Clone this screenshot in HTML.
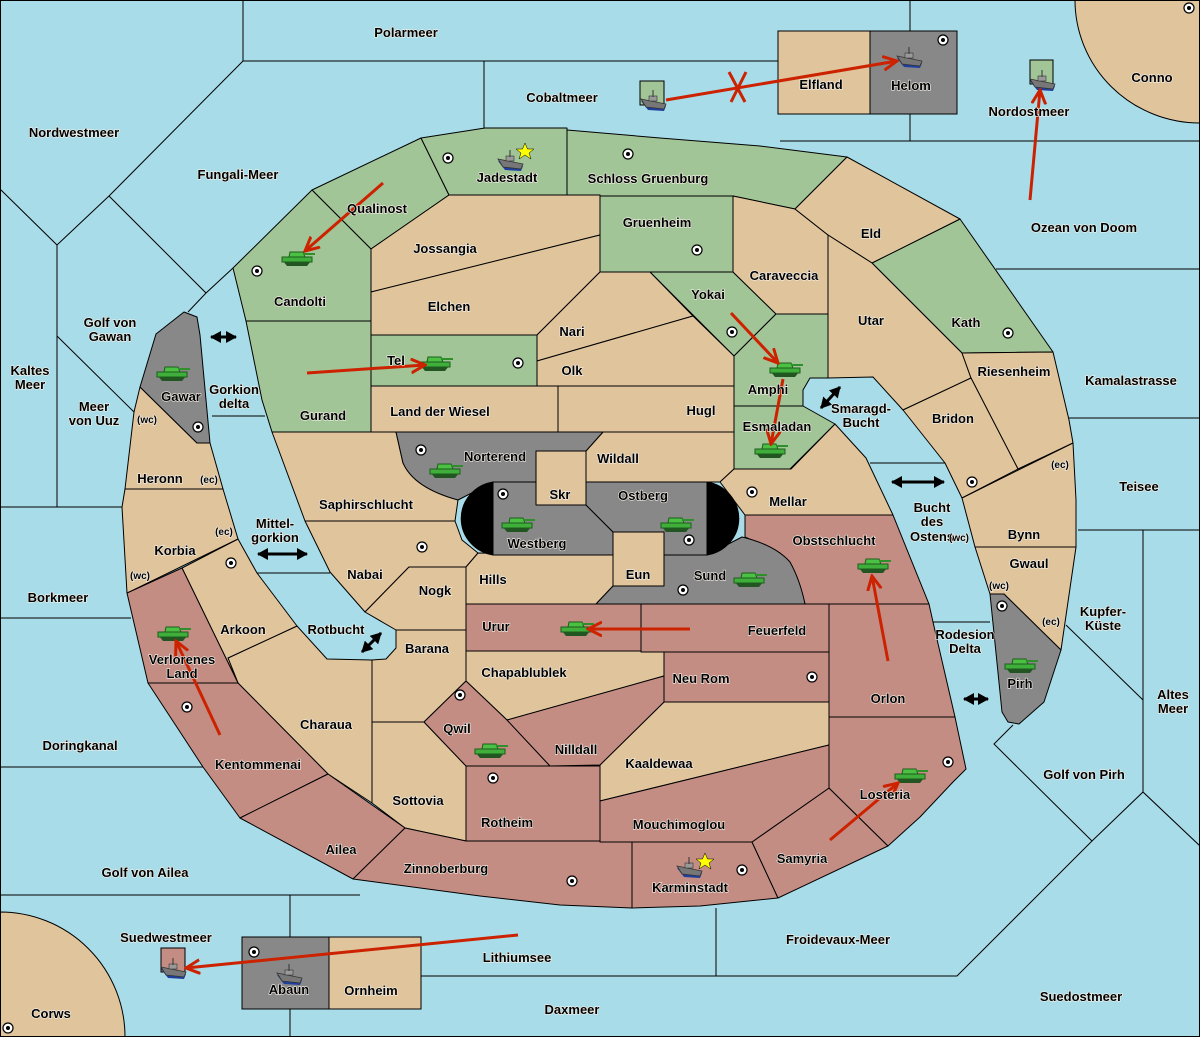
<!DOCTYPE html>
<html><head><meta charset="utf-8"><style>
html,body{margin:0;padding:0;background:#a8dce9;}
svg{display:block}
text{font-family:"Liberation Sans",sans-serif;font-weight:bold;font-size:13px;fill:#000;text-anchor:middle;paint-order:stroke;stroke:#f4f0e8;stroke-width:1.2px;}
text.s{font-size:10px;}
</style></head><body>
<svg width="1200" height="1037" viewBox="0 0 1200 1037" xmlns="http://www.w3.org/2000/svg">
<defs>
<symbol id="tank" viewBox="0 0 34 18">
<path d="M2,12 L30,12 L26,17 L6,17 Z" fill="#225522"/>
<path d="M1,8 L31,8 L31,13 L1,13 Z" fill="#3fae3a" stroke="#1d5d1d" stroke-width="1"/>
<path d="M9,3 L22,3 L24,8 L8,8 Z" fill="#4cc043" stroke="#1d5d1d" stroke-width="1"/>
<rect x="22" y="4" width="12" height="2" fill="#2f8f2a"/>
</symbol>
<symbol id="ship" viewBox="0 0 28 22">
<path d="M1,11 L26,16 L24,21 L8,20 Z" fill="#1f3f9f"/>
<path d="M1,9 L26,14 L24,19 L6,17 Z" fill="#777" stroke="#333" stroke-width="0.8"/>
<rect x="9" y="6" width="8" height="5" fill="#999" stroke="#333" stroke-width="0.6"/>
<line x1="13" y1="0" x2="13" y2="7" stroke="#333" stroke-width="1"/>
</symbol>
<symbol id="sc" viewBox="0 0 12 12"><circle cx="6" cy="6" r="5" fill="#fff" stroke="#000" stroke-width="1.2"/><circle cx="6" cy="6" r="2" fill="#000"/></symbol>
<marker id="rh" markerWidth="16" markerHeight="16" refX="14" refY="8" orient="auto" markerUnits="userSpaceOnUse"><path d="M0,1 L14,8 L0,15" fill="none" stroke="#cc2200" stroke-width="3"/></marker>
<marker id="bh" markerWidth="12" markerHeight="12" refX="10" refY="6" orient="auto" markerUnits="userSpaceOnUse"><path d="M0,0 L11,6 L0,12 Z" fill="#000"/></marker>
<marker id="bt" markerWidth="12" markerHeight="12" refX="2" refY="6" orient="auto" markerUnits="userSpaceOnUse"><path d="M12,0 L1,6 L12,12 Z" fill="#000"/></marker>
</defs>
<rect width="1200" height="1037" fill="#a8dce9"/>
<g fill="none" stroke="#000" stroke-width="1">
<path d="M243,0 V61 H778 M484,61 V128 M243,61 L109,196 L57,245 M0,189 L57,245 V507 M109,196 L206,293 L233,268 M206,293 L188,312 M57,336 L134,412 M0,507 H122 M212,416 H265 M257,573 H330 M0,618 H131 M0,767 H203 M0,895 H360 M290,895 V1037 M421,976 H957 L1092,841 L994,744 L1013,725 M716,908 V976 M1092,841 L1143,792 L1200,846 M1143,792 V530 H1200 M1078,530 H1143 M1066,625 L1143,700 M1067,418 H1200 M996,269 H1200 M780,141 H1200 M910,0 V31 M910,114 V141 M933,622 H990 M870,463 H945"/>
</g>
<g stroke="#000" stroke-width="1">
<path d="M1075,0 A125,123 0 0 0 1200,123 V0 Z" fill="#e0c49c"/>
<path d="M0,912 A125,125 0 0 1 125,1037 H0 Z" fill="#e0c49c"/>
<rect x="778" y="31" width="92" height="83" fill="#e0c49c"/>
<rect x="870" y="31" width="87" height="83" fill="#888"/>
<rect x="242" y="937" width="87" height="72" fill="#888"/>
<rect x="329" y="937" width="92" height="72" fill="#e0c49c"/>
<rect x="640" y="81" width="24" height="24" fill="#a2c597"/>
<rect x="1030" y="60" width="23" height="24" fill="#a2c597"/>
<rect x="161" y="948" width="24" height="24" fill="#c48d84"/>
</g>
<g stroke="#000" stroke-width="1" stroke-linejoin="round">
<!-- green -->
<g fill="#a2c597">
<polygon points="312,190 421,138 449,195 371,249"/>
<polygon points="312,190 371,249 371,321 246,321 233,268"/>
<polygon points="246,321 371,321 371,432 272,432 262,400"/>
<polygon points="421,138 485,128 567,128 567,195 449,195"/>
<polygon points="567,130 660,138 760,146 847,157 795,209 733,196 567,196"/>
<polygon points="600,196 733,196 733,272 600,272"/>
<polygon points="650,272 733,272 776,314 734,356"/>
<polygon points="776,314 828,314 828,378 810,378 803,390 803,406 734,406 734,356"/>
<polygon points="734,406 803,406 835,424 790,469 734,469"/>
<polygon points="371,335 537,335 537,386 371,386"/>
<polygon points="960,219 1053,352 962,353 872,263"/>
</g>
<g fill="#e0c49c">
<polygon points="371,249 449,195 600,195 600,235 371,292"/>
<polygon points="371,292 600,235 600,272 537,335 371,335"/>
<polygon points="537,335 600,272 650,272 693,316 537,361"/>
<polygon points="537,361 693,316 734,356 734,386 537,386"/>
<polygon points="371,386 558,386 558,432 371,432"/>
<polygon points="558,386 734,386 734,432 558,432"/>
<polygon points="733,196 795,209 828,235 828,314 776,314 733,272"/>
<polygon points="847,157 960,219 872,263 828,235 795,209"/>
<polygon points="828,235 872,263 962,353 971,378 903,410 873,377 828,378"/>
<polygon points="962,353 1053,352 1069,420 1073,443 1018,469 971,378"/>
<polygon points="903,410 971,378 1018,469 962,498 945,463"/>
<polygon points="962,498 1073,443 1076,500 1076,547 975,547"/>
<polygon points="975,547 1076,547 1061,650 1004,594 990,594"/>
<polygon points="603,432 734,432 734,469 720,482 586,482 586,451"/>
<polygon points="720,482 734,469 791,469 835,424 866,458 893,515 745,515"/>
<rect x="536" y="451" width="50" height="54"/>
<polygon points="272,432 396,432 403,463 420,483 458,500 455,521 305,521"/>
<polygon points="305,521 455,521 462,540 478,553 466,567 409,567 365,612 330,572"/>
<polygon points="466,567 478,553 613,555 613,586 596,604 466,604"/>
<polygon points="409,567 466,567 466,630 396,630 365,612"/>
<polygon points="396,630 466,630 466,681 424,722 372,722 372,660 386,659 396,648"/>
<polygon points="297,626 327,659 372,660 372,803 328,774 238,683 228,658"/>
<polygon points="182,568 238,539 257,573 297,626 228,658 238,683"/>
<polygon points="125,489 223,489 238,539 127,593 122,507"/>
<polygon points="140,387 197,443 210,443 223,489 125,489 134,412"/>
<polygon points="372,722 424,722 466,766 466,841 405,828 372,803"/>
<polygon points="466,651 664,651 664,676 507,720 466,681"/>
<polygon points="664,702 829,702 829,745 600,801 600,765"/>
</g>
<g fill="#c48d84">
<polygon points="127,593 182,568 238,683 148,683"/>
<polygon points="148,683 238,683 328,774 240,818 203,767"/>
<polygon points="240,818 328,774 405,828 353,879"/>
<polygon points="405,828 466,841 632,841 632,908 560,905 480,896 353,879"/>
<polygon points="632,842 752,842 778,898 700,906 632,908"/>
<polygon points="752,842 829,788 888,846 778,898"/>
<polygon points="829,717 955,717 966,769 953,782 920,817 888,846 829,788"/>
<polygon points="829,604 929,604 933,622 955,717 829,717"/>
<polygon points="641,604 829,604 829,652 641,652"/>
<polygon points="466,604 641,604 641,651 466,651"/>
<polygon points="664,652 829,652 829,702 664,702"/>
<polygon points="466,681 507,720 550,766 466,766 424,722"/>
<polygon points="507,720 664,676 664,702 600,765 550,766"/>
<polygon points="466,766 600,766 600,841 466,841"/>
<polygon points="600,801 829,745 829,788 752,842 600,842"/>
<polygon points="745,515 893,515 929,604 805,604 797,577 780,553 745,537"/>
</g>
<g fill="#888">
<polygon points="140,387 156,334 184,312 197,317 200,335 210,443 197,443"/>
<polygon points="990,594 1004,594 1061,650 1044,702 1019,724 1008,722 1002,712"/>
<path d="M396,432 L603,432 L586,451 L536,451 L536,482 L493,482 L458,500 Q414,488 403,463 Z"/>
<polygon points="493,482 536,482 536,505 586,505 613,532 613,555 493,555"/>
<polygon points="586,482 707,482 707,555 664,555 664,532 613,532 586,505"/>
<path d="M613,555 L707,555 L742,537 Q775,545 790,562 Q800,580 805,604 L596,604 L613,586 Z"/>
</g>
<rect x="613" y="532" width="51" height="54" fill="#e0c49c"/>
<path d="M493,482 A38,37 0 0 0 493,555 Z" fill="#000"/>
<path d="M707,482 A38,37 0 0 1 707,555 Z" fill="#000"/>
</g>
<!-- supply centers -->
<g>
<use href="#sc" x="251" y="265" width="12" height="12"/><use href="#sc" x="442" y="152" width="12" height="12"/>
<use href="#sc" x="622" y="148" width="12" height="12"/><use href="#sc" x="691" y="244" width="12" height="12"/>
<use href="#sc" x="726" y="326" width="12" height="12"/><use href="#sc" x="512" y="357" width="12" height="12"/>
<use href="#sc" x="192" y="421" width="12" height="12"/><use href="#sc" x="1002" y="327" width="12" height="12"/>
<use href="#sc" x="416" y="541" width="12" height="12"/><use href="#sc" x="497" y="488" width="12" height="12"/>
<use href="#sc" x="677" y="584" width="12" height="12"/><use href="#sc" x="746" y="486" width="12" height="12"/>
<use href="#sc" x="225" y="557" width="12" height="12"/><use href="#sc" x="966" y="476" width="12" height="12"/>
<use href="#sc" x="996" y="600" width="12" height="12"/><use href="#sc" x="454" y="689" width="12" height="12"/>
<use href="#sc" x="806" y="671" width="12" height="12"/><use href="#sc" x="487" y="772" width="12" height="12"/>
<use href="#sc" x="942" y="756" width="12" height="12"/><use href="#sc" x="181" y="701" width="12" height="12"/>
<use href="#sc" x="736" y="864" width="12" height="12"/><use href="#sc" x="566" y="875" width="12" height="12"/>
<use href="#sc" x="248" y="946" width="12" height="12"/><use href="#sc" x="937" y="34" width="12" height="12"/>
<use href="#sc" x="2" y="1022" width="12" height="12"/><use href="#sc" x="1183" y="2" width="12" height="12"/>
<use href="#sc" x="415" y="444" width="12" height="12"/><use href="#sc" x="683" y="534" width="12" height="12"/>
</g>
<!-- units -->
<g>
<use href="#tank" x="281" y="249" width="34" height="18"/><use href="#tank" x="419" y="354" width="34" height="18"/>
<use href="#tank" x="156" y="364" width="34" height="18"/><use href="#tank" x="429" y="461" width="34" height="18"/>
<use href="#tank" x="501" y="515" width="34" height="18"/><use href="#tank" x="660" y="515" width="34" height="18"/>
<use href="#tank" x="769" y="360" width="34" height="18"/><use href="#tank" x="754" y="441" width="34" height="18"/>
<use href="#tank" x="733" y="570" width="34" height="18"/><use href="#tank" x="857" y="556" width="34" height="18"/>
<use href="#tank" x="560" y="619" width="34" height="18"/><use href="#tank" x="157" y="624" width="34" height="18"/>
<use href="#tank" x="474" y="741" width="34" height="18"/><use href="#tank" x="1004" y="656" width="34" height="18"/>
<use href="#tank" x="894" y="766" width="34" height="18"/>
<use href="#ship" x="497" y="150" width="28" height="22"/><use href="#ship" x="676" y="857" width="28" height="22"/>
<use href="#ship" x="896" y="47" width="28" height="22"/><use href="#ship" x="640" y="90" width="28" height="22"/>
<use href="#ship" x="1029" y="70" width="28" height="22"/><use href="#ship" x="160" y="958" width="28" height="22"/>
<use href="#ship" x="276" y="964" width="28" height="22"/>
<polygon points="525,143 527.5,149 534,149 529,153 531,159 525,155 519,159 521,153 516,149 522.5,149" fill="#ff0" stroke="#000" stroke-width="0.5"/>
<polygon points="705,853 707.5,859 714,859 709,863 711,869 705,865 699,869 701,863 696,859 702.5,859" fill="#ff0" stroke="#000" stroke-width="0.5"/>
</g>
<!-- red arrows -->
<g stroke="#cc2200" stroke-width="3" fill="none" marker-end="url(#rh)">
<line x1="383" y1="183" x2="305" y2="251"/>
<line x1="307" y1="373" x2="425" y2="365"/>
<line x1="731" y1="313" x2="778" y2="363"/>
<line x1="783" y1="379" x2="771" y2="444"/>
<line x1="690" y1="629" x2="588" y2="629"/>
<line x1="888" y1="661" x2="872" y2="576"/>
<line x1="830" y1="840" x2="898" y2="783"/>
<line x1="220" y1="735" x2="176" y2="641"/>
<line x1="1030" y1="200" x2="1040" y2="90"/>
<line x1="666" y1="100" x2="897" y2="61"/>
<line x1="518" y1="935" x2="186" y2="968"/>
</g>
<path d="M729,72 L745,102 M746,72 L731,102" stroke="#cc2200" stroke-width="3"/>
<!-- black double arrows -->
<g stroke="#000" stroke-width="3" marker-end="url(#bh)" marker-start="url(#bt)">
<line x1="211" y1="337" x2="236" y2="337"/>
<line x1="258" y1="554" x2="307" y2="554"/>
<line x1="362" y1="652" x2="381" y2="633"/>
<line x1="821" y1="408" x2="840" y2="387"/>
<line x1="892" y1="482" x2="944" y2="482"/>
<line x1="964" y1="699" x2="988" y2="699"/>
</g>
<!-- labels -->
<g>
<text x="406" y="37">Polarmeer</text><text x="562" y="102">Cobaltmeer</text>
<text x="74" y="137">Nordwestmeer</text><text x="238" y="179">Fungali-Meer</text>
<text x="1152" y="82">Conno</text><text x="821" y="89">Elfland</text><text x="911" y="90">Helom</text>
<text x="1029" y="116">Nordostmeer</text><text x="507" y="182">Jadestadt</text>
<text x="648" y="183">Schloss Gruenburg</text><text x="377" y="213">Qualinost</text>
<text x="445" y="253">Jossangia</text><text x="657" y="227">Gruenheim</text><text x="871" y="238">Eld</text>
<text x="1084" y="232">Ozean von Doom</text><text x="300" y="306">Candolti</text><text x="449" y="311">Elchen</text>
<text x="784" y="280">Caraveccia</text><text x="708" y="299">Yokai</text><text x="572" y="336">Nari</text>
<text x="871" y="325">Utar</text><text x="966" y="327">Kath</text>
<text x="110" y="327">Golf von</text><text x="110" y="341">Gawan</text>
<text x="30" y="375">Kaltes</text><text x="30" y="389">Meer</text>
<text x="396" y="365">Tel</text><text x="572" y="375">Olk</text><text x="768" y="394">Amphi</text>
<text x="1014" y="376">Riesenheim</text><text x="1131" y="385">Kamalastrasse</text>
<text x="181" y="401">Gawar</text><text x="234" y="394">Gorkion</text><text x="234" y="408">delta</text>
<text x="94" y="411">Meer</text><text x="94" y="425">von Uuz</text><text class="s" x="147" y="423">(wc)</text>
<text x="440" y="416">Land der Wiesel</text><text x="323" y="420">Gurand</text><text x="701" y="415">Hugl</text>
<text x="861" y="413">Smaragd-</text><text x="861" y="427">Bucht</text><text x="777" y="431">Esmaladan</text>
<text x="953" y="423">Bridon</text><text x="160" y="483">Heronn</text><text class="s" x="209" y="483">(ec)</text>
<text x="495" y="461">Norterend</text><text x="618" y="463">Wildall</text><text class="s" x="1060" y="468">(ec)</text>
<text x="1139" y="491">Teisee</text><text x="788" y="506">Mellar</text><text x="560" y="499">Skr</text>
<text x="643" y="500">Ostberg</text><text x="366" y="509">Saphirschlucht</text>
<text x="932" y="512">Bucht</text><text x="932" y="526">des</text><text x="932" y="541">Ostens</text>
<text x="275" y="528">Mittel-</text><text x="275" y="542">gorkion</text><text class="s" x="224" y="535">(ec)</text>
<text x="537" y="548">Westberg</text><text x="834" y="545">Obstschlucht</text><text class="s" x="959" y="541">(wc)</text>
<text x="1024" y="539">Bynn</text><text x="175" y="555">Korbia</text><text x="1029" y="568">Gwaul</text>
<text class="s" x="140" y="579">(wc)</text><text x="365" y="579">Nabai</text><text x="638" y="579">Eun</text>
<text x="710" y="580">Sund</text><text x="493" y="584">Hills</text><text class="s" x="999" y="589">(wc)</text>
<text x="435" y="595">Nogk</text><text x="58" y="602">Borkmeer</text>
<text x="1103" y="616">Kupfer-</text><text x="1103" y="630">Küste</text><text class="s" x="1051" y="625">(ec)</text>
<text x="496" y="631">Urur</text><text x="336" y="634">Rotbucht</text><text x="243" y="634">Arkoon</text>
<text x="777" y="635">Feuerfeld</text><text x="965" y="639">Rodesion</text><text x="965" y="653">Delta</text>
<text x="427" y="653">Barana</text><text x="182" y="664">Verlorenes</text><text x="182" y="678">Land</text>
<text x="524" y="677">Chapablublek</text><text x="701" y="683">Neu Rom</text><text x="1020" y="688">Pirh</text>
<text x="1173" y="699">Altes</text><text x="1173" y="713">Meer</text><text x="888" y="703">Orlon</text>
<text x="326" y="729">Charaua</text><text x="457" y="733">Qwil</text><text x="80" y="750">Doringkanal</text>
<text x="576" y="754">Nilldall</text><text x="659" y="768">Kaaldewaa</text><text x="258" y="769">Kentommenai</text>
<text x="1084" y="779">Golf von Pirh</text><text x="885" y="799">Losteria</text><text x="418" y="805">Sottovia</text>
<text x="507" y="827">Rotheim</text><text x="679" y="829">Mouchimoglou</text><text x="341" y="854">Ailea</text>
<text x="802" y="863">Samyria</text><text x="145" y="877">Golf von Ailea</text><text x="446" y="873">Zinnoberburg</text>
<text x="690" y="892">Karminstadt</text><text x="166" y="942">Suedwestmeer</text><text x="838" y="944">Froidevaux-Meer</text>
<text x="517" y="962">Lithiumsee</text><text x="289" y="994">Abaun</text><text x="371" y="995">Ornheim</text>
<text x="1081" y="1001">Suedostmeer</text><text x="572" y="1014">Daxmeer</text><text x="51" y="1018">Corws</text>
</g>
<rect x="0.5" y="0.5" width="1199" height="1036" fill="none" stroke="#000"/>
</svg>
</body></html>
